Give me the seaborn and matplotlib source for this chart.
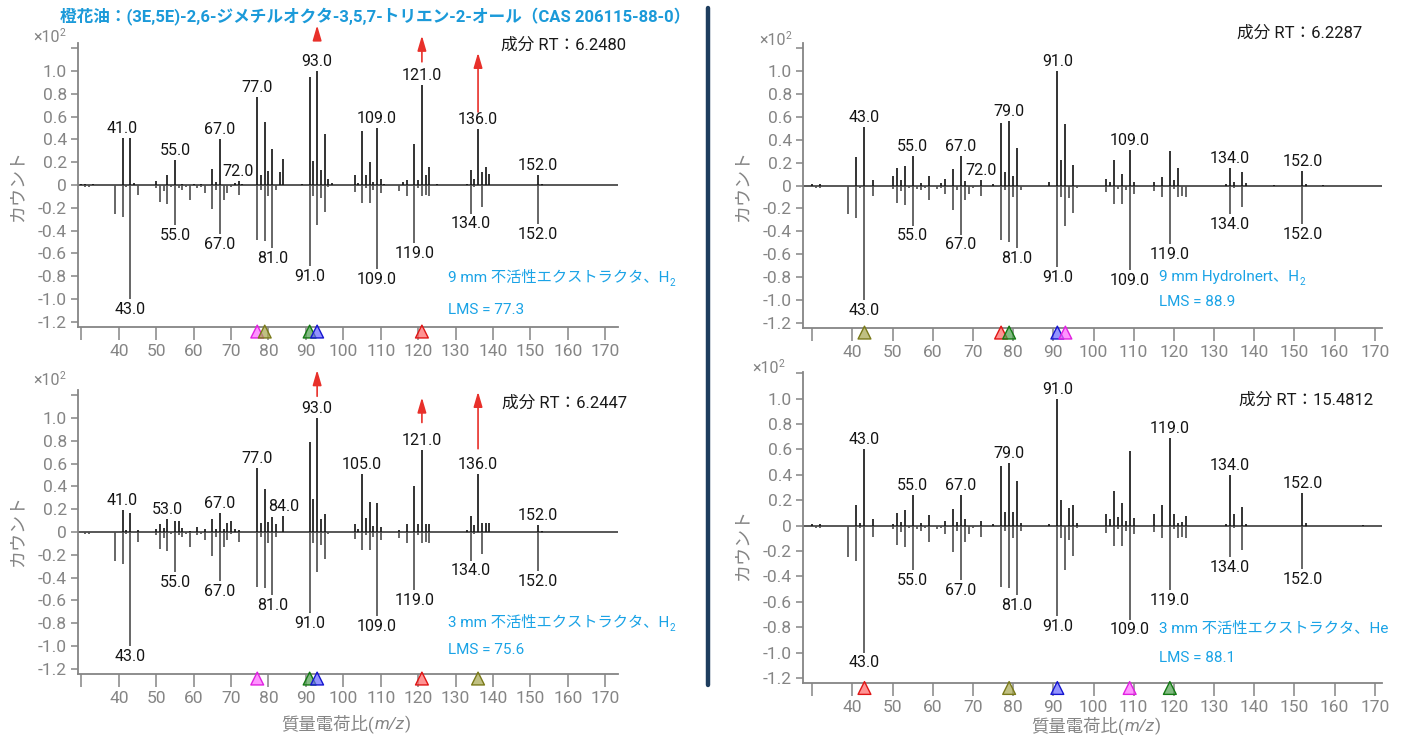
import numpy as np
import matplotlib
matplotlib.use('Agg')
import matplotlib.pyplot as plt
from matplotlib.lines import Line2D
from matplotlib.transforms import IdentityTransform
import seaborn as sns

W, H = 1407, 735
sns.set_theme(style='white')
FAM = ['Roboto', 'Noto Sans CJK JP', 'DejaVu Sans']
plt.rcParams['font.family'] = FAM
plt.rcParams['axes.unicode_minus'] = False

# ---------------- data ----------------
# library (reference) spectrum, drawn downward in every panel (x10^2 counts)
lib_mz = [31, 32, 39, 41, 42, 43, 45, 50, 51, 52, 53, 54, 55, 56, 57, 58, 59, 61, 62, 63, 65, 66, 67, 68, 69, 70, 72,
          77, 78, 79, 80, 81, 82, 91, 92, 93, 94, 95, 96, 103, 105, 106, 107, 108, 109, 110,
          115, 117, 119, 120, 121, 122, 123, 134, 135, 137, 152, 153]
lib_int = [-0.02, -0.02, -0.25, -0.28, -0.02, -1.0, -0.09, -0.03, -0.15, -0.05, -0.17, -0.02, -0.35, -0.03, -0.04, -0.02, -0.13,
           -0.03, -0.02, -0.07, -0.21, -0.04, -0.43, -0.13, -0.07, -0.02, -0.09,
           -0.48, -0.04, -0.49, -0.10, -0.55, -0.04, -0.71, -0.10, -0.35, -0.11, -0.24, -0.02,
           -0.06, -0.16, -0.03, -0.16, -0.04, -0.74, -0.07,
           -0.05, -0.10, -0.51, -0.03, -0.10, -0.09, -0.10, -0.25, -0.02, -0.19, -0.34, -0.01]
lib_labels = [43, 55, 67, 81, 91, 109, 119, 134, 152]

# top-left: 9 mm inert extractor, H2
tl_mz = [30, 31, 33, 41, 43, 44, 50, 53, 55, 57, 60, 62, 65, 66, 67, 71, 72, 73, 77, 78, 79, 80, 81, 83, 84, 89,
         91, 92, 93, 94, 95, 96, 97, 103, 104, 105, 106, 107, 108, 109, 110, 111, 116, 117, 119, 120, 121, 122, 123, 125,
         133, 134, 135, 136, 137, 138, 139, 152, 153]
tl_int = [0.01, 0.01, 0.01, 0.41, 0.41, 0.02, 0.035, 0.09, 0.22, 0.01, 0.01, 0.01, 0.14, 0.03, 0.40, 0.02, 0.035, 0.01,
          0.77, 0.09, 0.55, 0.12, 0.32, 0.11, 0.23, 0.01, 0.95, 0.21, 1.0, 0.13, 0.45, 0.05, 0.02,
          0.09, 0.02, 0.47, 0.09, 0.20, 0.03, 0.50, 0.05, 0.01, 0.03, 0.04, 0.36, 0.04, 0.88, 0.09, 0.16, 0.01,
          0.01, 0.13, 0.05, 0.49, 0.11, 0.16, 0.10, 0.09, 0.01]
tl_labels = [41, 55, 67, 72, 77, 93, 109, 121, 136, 152]
tl_tri_mz = [77, 79, 91, 93, 121]
tl_tri_col = ['magenta', 'olive', 'green', 'blue', 'red']
tl_arrow_mz = [93, 121, 136]
tl_arrow_tail = [1.28, 1.08, 0.64]
tl_arrow_head = [1.40, 1.31, 1.16]

# bottom-left: 3 mm inert extractor, H2
bl_mz = [41, 42, 43, 45, 50, 51, 52, 53, 55, 56, 57, 59, 61, 63, 65, 66, 67, 68, 69, 70, 71, 72,
         77, 78, 79, 80, 81, 82, 84, 91, 92, 93, 94, 95, 103, 104, 105, 106, 107, 108, 109, 110,
         115, 117, 119, 120, 121, 122, 123, 133, 134, 135, 136, 137, 138, 139, 152, 153]
bl_int = [0.19, 0.02, 0.17, 0.02, 0.03, 0.07, 0.035, 0.11, 0.10, 0.10, 0.035, 0.01, 0.04, 0.03, 0.11, 0.03, 0.17, 0.03,
          0.08, 0.10, 0.03, 0.015, 0.56, 0.08, 0.38, 0.085, 0.13, 0.07, 0.14, 0.79, 0.29, 1.0, 0.11, 0.155,
          0.07, 0.03, 0.51, 0.125, 0.26, 0.05, 0.25, 0.04, 0.02, 0.07, 0.40, 0.07, 0.72, 0.07, 0.07,
          0.02, 0.14, 0.065, 0.51, 0.08, 0.075, 0.08, 0.065, 0.01]
bl_labels = [41, 53, 67, 77, 84, 93, 105, 121, 136, 152]
bl_tri_mz = [77, 91, 93, 121, 136]
bl_tri_col = ['magenta', 'green', 'blue', 'red', 'olive']
bl_arrow_mz = [93, 121, 136]
bl_arrow_tail = [1.19, 0.96, 0.73]
bl_arrow_head = [1.42, 1.18, 1.23]

# top-right: 9 mm HydroInert, H2
tr_mz = [30, 32, 41, 43, 45, 50, 51, 52, 53, 55, 57, 59, 62, 63, 65, 67, 68, 72, 75, 77, 78, 79, 80, 81,
         89, 91, 92, 93, 95, 103, 104, 105, 107, 109, 110, 115, 117, 119, 120, 121,
         133, 134, 135, 137, 138, 145, 152, 153, 157]
tr_int = [0.01, 0.01, 0.25, 0.51, 0.05, 0.08, 0.15, 0.05, 0.17, 0.26, 0.02, 0.08, 0.02, 0.06, 0.145, 0.26, 0.04,
          0.05, 0.01, 0.545, 0.115, 0.565, 0.085, 0.33, 0.03, 1.0, 0.22, 0.54, 0.175,
          0.06, 0.03, 0.22, 0.10, 0.31, 0.03, 0.03, 0.075, 0.30, 0.05, 0.15,
          0.01, 0.15, 0.03, 0.115, 0.02, 0.005, 0.13, 0.01, 0.005]
tr_labels = [43, 55, 67, 72, 79, 91, 109, 134, 152]
tr_tri_mz = [43, 77, 79, 91, 93]
tr_tri_col = ['olive', 'red', 'green', 'blue', 'magenta']

# bottom-right: 3 mm inert extractor, He
br_mz = [30, 32, 41, 42, 43, 45, 50, 51, 52, 53, 55, 57, 59, 63, 65, 66, 67, 68, 72, 75, 77, 78, 79, 80, 81, 82,
         89, 91, 92, 94, 95, 96, 103, 104, 105, 106, 107, 108, 109, 110, 115, 117, 119, 120, 121, 122, 123,
         133, 134, 135, 137, 138, 152, 153, 167]
br_int = [0.01, 0.01, 0.16, 0.02, 0.60, 0.055, 0.01, 0.10, 0.03, 0.12, 0.24, 0.02, 0.08, 0.035, 0.13, 0.03, 0.24, 0.055,
          0.04, 0.01, 0.47, 0.11, 0.49, 0.11, 0.35, 0.02, 0.015, 1.0, 0.20, 0.14, 0.165, 0.02,
          0.09, 0.05, 0.27, 0.07, 0.18, 0.035, 0.59, 0.06, 0.09, 0.16, 0.69, 0.09, 0.02, 0.03, 0.075,
          0.01, 0.40, 0.09, 0.15, 0.01, 0.26, 0.02, 0.005]
br_labels = [43, 55, 67, 79, 91, 119, 134, 152]
br_tri_mz = [43, 79, 91, 109, 119]
br_tri_col = ['red', 'olive', 'blue', 'magenta', 'green']

rt_texts = ['成分 RT：6.2480', '成分 RT：6.2447', '成分 RT：6.2287', '成分 RT：15.4812']
cond_texts = ['9 mm 不活性エクストラクタ、H', '3 mm 不活性エクストラクタ、H', '9 mm HydroInert、H', '3 mm 不活性エクストラクタ、He']
cond_sub = ['2', '2', '2', '']
lms_texts = ['LMS = 77.3', 'LMS = 75.6', 'LMS = 88.9', 'LMS = 88.1']
title = '橙花油：(3E,5E)-2,6-ジメチルオクタ-3,5,7-トリエン-2-オール（CAS 206115-88-0）'
ylabel = 'カウント'

tri_face = {'magenta': (1.0, 0.4, 1.0, 0.7), 'olive': (0.65, 0.65, 0.3, 0.7), 'green': (0.3, 0.62, 0.3, 0.7),
            'blue': (0.4, 0.4, 1.0, 0.7), 'red': (1.0, 0.4, 0.4, 0.7)}
tri_edge = {'magenta': '#E020E0', 'olive': '#7A7A1A', 'green': '#137A13', 'blue': '#1515D0', 'red': '#E01515'}

for a, b in [(lib_mz, lib_int), (tl_mz, tl_int), (bl_mz, bl_int), (tr_mz, tr_int), (br_mz, br_int)]:
    assert len(a) == len(b)

# ---------------- figure ----------------
fig = plt.figure(figsize=(W / 100, H / 100), dpi=100)
fig.patch.set_facecolor('white')
renderer = fig.canvas.get_renderer()

GRAY = '#858585'
BLUE = '#1AA3E6'


def rich_text(x, y, pieces, ha='left', color='#222', weight='normal'):
    """x,y in top-origin pixels (y = baseline). pieces: (text, fontsize, dy_px, style)"""
    arts = []
    for s, fs, dy, st in pieces:
        t = fig.text(0, 0, s, transform=IdentityTransform(), va='baseline', ha='left',
                     fontsize=fs, color=color, style=st, weight=weight)
        w = t.get_window_extent(renderer).width
        arts.append((t, dy, w))
    total = sum(a[2] for a in arts)
    x0 = x - total / 2 if ha == 'center' else (x - total if ha == 'right' else x)
    for t, dy, w in arts:
        t.set_position((x0, H - y + dy))
        x0 += w


panels = [
    dict(box=(78, 43, 618, 327), xlim=(29.1, 173.4), ylim=(-1.245, 1.245), mz=tl_mz, it=tl_int, labels=tl_labels,
         tri=tl_tri_mz, tric=tl_tri_col, arr=(tl_arrow_mz, tl_arrow_tail, tl_arrow_head),
         rt=(626, 45), cond=(448, 282), lms=(448, 314), x10=(33, 42), ylab=(17, 186), xlab=None),
    dict(box=(78, 390, 618, 674), xlim=(29.1, 173.4), ylim=(-1.245, 1.245), mz=bl_mz, it=bl_int, labels=bl_labels,
         tri=bl_tri_mz, tric=bl_tri_col, arr=(bl_arrow_mz, bl_arrow_tail, bl_arrow_head),
         rt=(627, 403), cond=(448, 627), lms=(448, 654), x10=(33, 385), ylab=(17, 531), xlab=(346, 729)),
    dict(box=(803, 43, 1382, 328), xlim=(27.7, 171.8), ylim=(-1.245, 1.245), mz=tr_mz, it=tr_int, labels=tr_labels,
         tri=tr_tri_mz, tric=tr_tri_col, arr=None,
         rt=(1362, 33), cond=(1159, 281), lms=(1159, 306), x10=(759, 45), ylab=(742, 186), xlab=None),
    dict(box=(803, 372, 1382, 683), xlim=(27.7, 171.8), ylim=(-1.24, 1.21), mz=br_mz, it=br_int, labels=br_labels,
         tri=br_tri_mz, tric=br_tri_col, arr=None,
         rt=(1373, 400), cond=(1159, 633), lms=(1159, 662), x10=(752, 373), ylab=(742, 545), xlab=(1096, 731)),
]

for i, p in enumerate(panels):
    l, t, r, b = p['box']
    ax = fig.add_axes([l / W, 1 - b / H, (r - l) / W, (b - t) / H])
    ax.set_facecolor('white')
    ax.set_xlim(*p['xlim'])
    ax.set_ylim(*p['ylim'])
    # zero line
    ax.axhline(0, color='#4a4a4a', lw=1.3, zorder=2)
    # measured spectrum (up) and library spectrum (down)
    ax.vlines(p['mz'], 0, p['it'], color='#111111', lw=1.2, zorder=3)
    ax.vlines(lib_mz, 0, lib_int, color='#4d4d4d', lw=1.2, zorder=3)
    # peak labels
    up = dict(zip(p['mz'], p['it']))
    for m in p['labels']:
        ax.annotate(f'{m:.1f}', xy=(m, up[m]), xytext=(0, 1.5), textcoords='offset points',
                    ha='center', va='bottom', fontsize=11.5, color='#151515', zorder=4)
    dn = dict(zip(lib_mz, lib_int))
    for m in lib_labels:
        ax.annotate(f'{m:.1f}', xy=(m, dn[m]), xytext=(0, -2), textcoords='offset points',
                    ha='center', va='top', fontsize=11.5, color='#151515', zorder=4)
    # arrows
    if p['arr'] is not None:
        for m, y0, y1 in zip(*p['arr']):
            ax.annotate('', xy=(m, y1), xytext=(m, y0),
                        arrowprops=dict(arrowstyle='-|>,head_length=0.75,head_width=0.22', color='#E8302A',
                                        lw=1.2, mutation_scale=12, shrinkA=0, shrinkB=0),
                        annotation_clip=False)
    # ticks
    ax.set_xticks(np.arange(30, 171, 10))
    ax.set_xticklabels([''] + [str(v) for v in range(40, 171, 10)])
    yt = np.round(np.arange(-1.2, 1.201, 0.2), 1)
    ax.set_yticks(yt)
    ax.set_yticklabels(['' if abs(v - 1.2) < 1e-6 else ('0' if abs(v) < 1e-6 else f'{v:.1f}') for v in yt])
    ax.tick_params(axis='x', direction='out', length=9, width=1.1, color=GRAY, labelcolor=GRAY,
                   labelsize=12.5, pad=3, bottom=True)
    ax.tick_params(axis='y', direction='out', length=5, width=1.1, color=GRAY, labelcolor=GRAY,
                   labelsize=12.5, pad=3, left=True)
    sns.despine(ax=ax)
    for s in ['left', 'bottom']:
        ax.spines[s].set_color(GRAY)
        ax.spines[s].set_linewidth(1.3)
    ax.grid(False)
    # triangles at matching m/z below the axis
    ylo, yhi = p['ylim']
    ytri = ylo - 0.016 * (yhi - ylo)
    sns.scatterplot(x=p['tri'], y=[ytri] * len(p['tri']), marker='^', s=85, ax=ax, legend=False,
                    color='red', linewidth=1.0, zorder=5)
    coll = ax.collections[-1]
    coll.set_facecolors([tri_face[c] for c in p['tric']])
    coll.set_edgecolors([tri_edge[c] for c in p['tric']])
    coll.set_clip_on(False)

    # texts
    fig.text(p['rt'][0] / W, 1 - p['rt'][1] / H, rt_texts[i], ha='right', va='center', fontsize=12, color='#1a1a1a')
    pieces = [(cond_texts[i], 11, 0, 'normal')]
    if cond_sub[i]:
        pieces.append((cond_sub[i], 7, -4, 'normal'))
    rich_text(p['cond'][0], p['cond'][1], pieces, color=BLUE)
    rich_text(p['lms'][0], p['lms'][1], [(lms_texts[i], 11, 0, 'normal')], color=BLUE)
    rich_text(p['x10'][0], p['x10'][1], [('×10', 11.5, 0, 'normal'), ('2', 7.5, 6, 'normal')], color=GRAY)
    fig.text(p['ylab'][0] / W, 1 - p['ylab'][1] / H, ylabel, rotation=90, ha='center', va='center',
             fontsize=13, color=GRAY)
    if p['xlab'] is not None:
        rich_text(p['xlab'][0], p['xlab'][1], [('質量電荷比(', 12.5, 0, 'normal'), ('m/z', 12.5, 0, 'italic'),
                                               (')', 12.5, 0, 'normal')], ha='center', color=GRAY)

# title
rich_text(375, 22, [(title, 12, 0, 'normal')], ha='center', color='#1B9AD9', weight='bold')

# vertical divider
fig.add_artist(Line2D([708 / W, 708 / W], [1 - 8 / H, 1 - 685 / H], color='#1E3D5E', lw=3.2))

fig.savefig('out.png', dpi=100, facecolor='white')
